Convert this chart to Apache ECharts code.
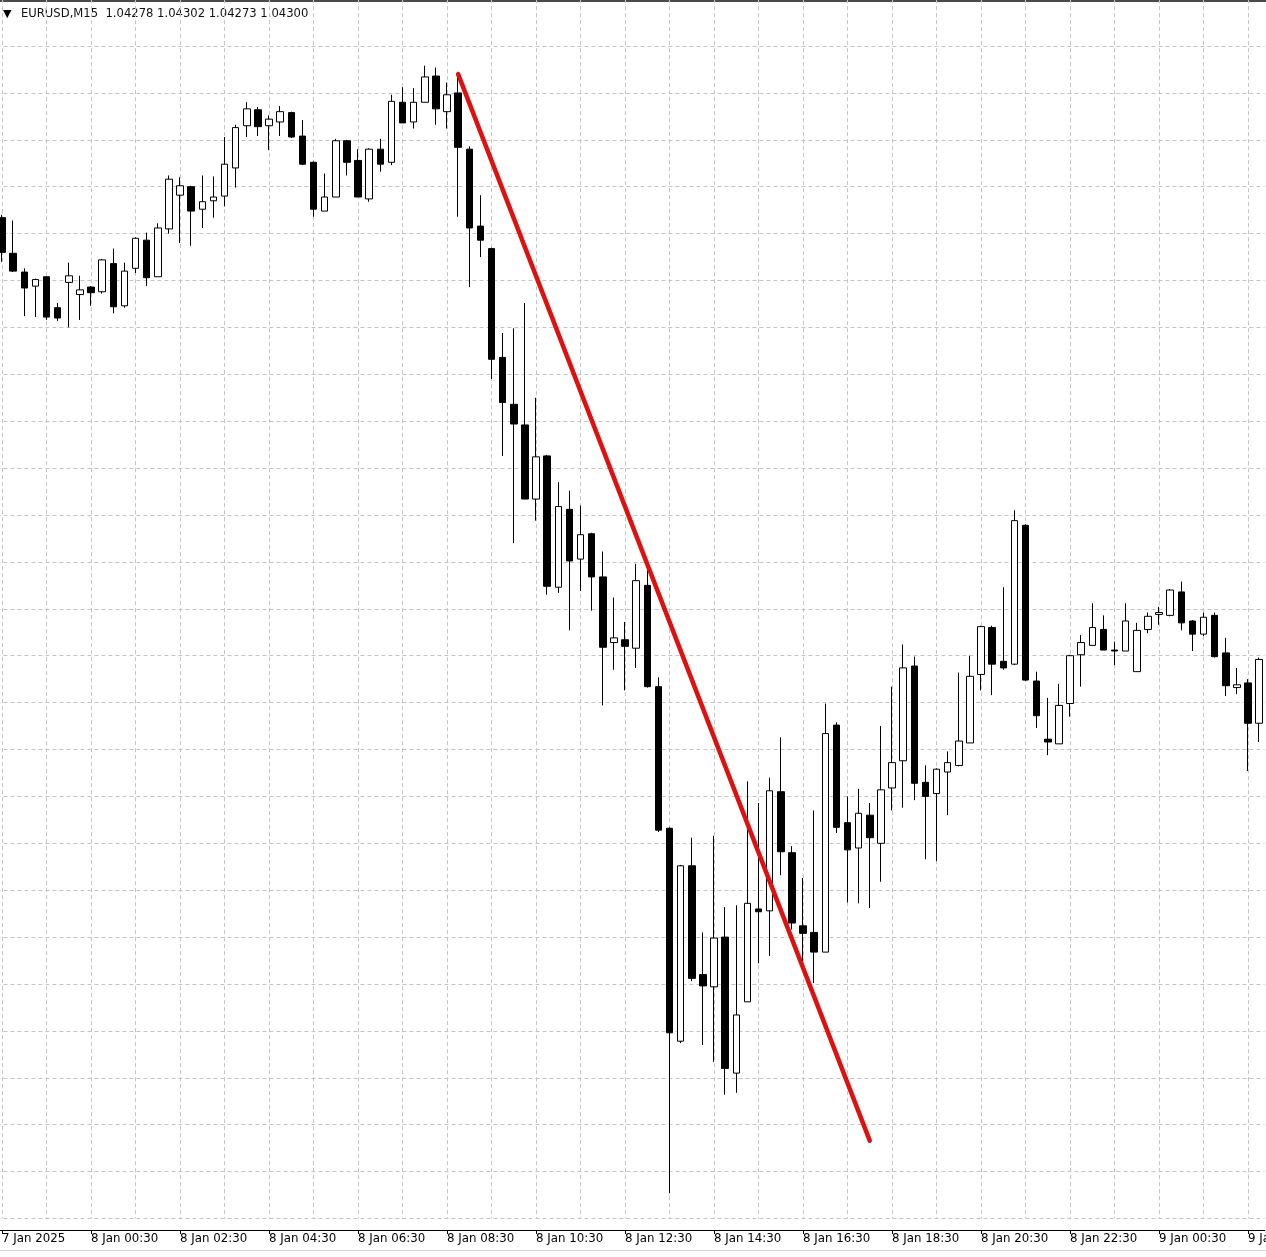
<!DOCTYPE html>
<html><head><meta charset="utf-8">
<script src="https://cdn.jsdelivr.net/npm/echarts@6/dist/echarts.min.js"></script>
<style>html,body{margin:0;padding:0;background:#fff;overflow:hidden}#c{width:1266px;height:1257px}</style>
</head><body><div id="c"></div><script>
// EURUSD M15 candles, 7 Jan 2025 22:30 -> 9 Jan 2025 02:45
const opens=[1.03767,1.03729,1.03709,1.03694,1.03704,1.03671,1.03698,1.03685,1.03693,1.03688,
1.03718,1.03673,1.03713,1.03743,1.03704,1.03755,1.03791,1.03800,1.03776,1.03785,
1.03790,1.03820,1.03865,1.03882,1.03865,1.03869,1.03879,1.03854,1.03826,1.03774,
1.03789,1.03849,1.03828,1.03787,1.03840,1.03826,1.03890,1.03869,1.03890,1.03918,
1.03880,1.03900,1.03840,1.03758,1.03734,1.03618,1.03568,1.03546,1.03467,1.03513,
1.03373,1.03456,1.03403,1.03430,1.03384,1.03314,1.03317,1.03308,1.03375,1.03267,
1.03116,1.02889,1.03076,1.02960,1.02947,1.03000,1.02855,1.02931,1.03030,1.03028,
1.03155,1.03090,1.03012,1.03005,1.02984,1.03226,1.03122,1.03095,1.03130,1.03100,
1.03159,1.03188,1.03289,1.03165,1.03153,1.03176,1.03183,1.03207,1.03280,1.03330,
1.03294,1.03291,1.03439,1.03273,1.03211,1.03206,1.03249,1.03301,1.03311,1.03328,
1.03306,1.03305,1.03283,1.03328,1.03344,1.03343,1.03368,1.03337,1.03323,1.03343,
1.03303,1.03266,1.03271,1.03228];
const highs=[1.03770,1.03764,1.03713,1.03702,1.03704,1.03676,1.03719,1.03705,1.03694,1.03723,
1.03734,1.03719,1.03746,1.03751,1.03761,1.03812,1.03810,1.03801,1.03812,1.03811,
1.03853,1.03866,1.03890,1.03885,1.03876,1.03886,1.03880,1.03871,1.03827,1.03814,
1.03851,1.03850,1.03840,1.03841,1.03851,1.03898,1.03906,1.03905,1.03929,1.03927,
1.03911,1.03918,1.03843,1.03791,1.03735,1.03644,1.03649,1.03676,1.03575,1.03514,
1.03485,1.03476,1.03460,1.03431,1.03411,1.03362,1.03336,1.03398,1.03393,1.03277,
1.03117,1.03077,1.03106,1.03005,1.03108,1.03032,1.03034,1.03166,1.03143,1.03170,
1.03213,1.03097,1.03063,1.03135,1.03249,1.03229,1.03150,1.03158,1.03143,1.03225,
1.03267,1.03312,1.03299,1.03183,1.03180,1.03198,1.03282,1.03300,1.03332,1.03332,
1.03373,1.03455,1.03440,1.03283,1.03255,1.03270,1.03301,1.03322,1.03356,1.03343,
1.03315,1.03356,1.03335,1.03346,1.03352,1.03371,1.03379,1.03338,1.03346,1.03346,
1.03319,1.03287,1.03275,1.03298];
const lows=[1.03720,1.03709,1.03662,1.03661,1.03658,1.03657,1.03650,1.03658,1.03673,1.03686,
1.03665,1.03671,1.03708,1.03694,1.03704,1.03750,1.03740,1.03737,1.03756,1.03767,
1.03779,1.03799,1.03853,1.03854,1.03839,1.03854,1.03852,1.03823,1.03768,1.03774,
1.03789,1.03812,1.03789,1.03784,1.03816,1.03823,1.03868,1.03862,1.03890,1.03866,
1.03862,1.03768,1.03693,1.03725,1.03595,1.03513,1.03420,1.03467,1.03444,1.03365,
1.03367,1.03327,1.03369,1.03348,1.03247,1.03285,1.03263,1.03287,1.03266,1.03112,
1.02727,1.02887,1.02953,1.02885,1.02867,1.02832,1.02834,1.02931,1.02972,1.02980,
1.03066,1.03008,1.02973,1.02951,1.02984,1.03111,1.03037,1.03036,1.03031,1.03059,
1.03135,1.03138,1.03146,1.03083,1.03081,1.03130,1.03182,1.03207,1.03263,1.03258,
1.03285,1.03290,1.03273,1.03223,1.03194,1.03206,1.03235,1.03267,1.03311,1.03306,
1.03290,1.03305,1.03283,1.03324,1.03333,1.03342,1.03327,1.03305,1.03321,1.03298,
1.03257,1.03259,1.03177,1.03208];
const closes=[1.03730,1.03710,1.03692,1.03701,1.03661,1.03660,1.03705,1.03690,1.03687,1.03722,
1.03672,1.03710,1.03745,1.03703,1.03756,1.03808,1.03801,1.03774,1.03784,1.03789,
1.03824,1.03863,1.03883,1.03864,1.03872,1.03880,1.03853,1.03824,1.03776,1.03789,
1.03849,1.03826,1.03789,1.03840,1.03824,1.03891,1.03868,1.03890,1.03917,1.03883,
1.03898,1.03842,1.03756,1.03743,1.03616,1.03570,1.03547,1.03467,1.03512,1.03374,
1.03459,1.03401,1.03429,1.03384,1.03309,1.03319,1.03310,1.03380,1.03267,1.03114,
1.02898,1.03076,1.02956,1.02948,1.02999,1.02860,1.02917,1.03036,1.03027,1.03156,
1.03091,1.03015,1.03004,1.02984,1.03217,1.03117,1.03093,1.03132,1.03106,1.03157,
1.03186,1.03287,1.03164,1.03150,1.03179,1.03186,1.03209,1.03278,1.03331,1.03291,
1.03287,1.03444,1.03274,1.03236,1.03208,1.03247,1.03300,1.03314,1.03330,1.03306,
1.03305,1.03337,1.03327,1.03342,1.03346,1.03370,1.03335,1.03323,1.03341,1.03299,
1.03268,1.03269,1.03228,1.03296];
const tickLabels=['7 Jan 2025','8 Jan 00:30','8 Jan 02:30','8 Jan 04:30','8 Jan 06:30','8 Jan 08:30','8 Jan 10:30','8 Jan 12:30','8 Jan 14:30','8 Jan 16:30','8 Jan 18:30','8 Jan 20:30','8 Jan 22:30','9 Jan 00:30','9 Jan 02:30'];
const trendIdx=[41,78];
const trendVal=[1.03920,1.02783];
const headerSymbol='EURUSD,M15';
const headerOHLC=['1.04278','1.04302','1.04273','1.04300'];

const months=['Jan','Feb','Mar','Apr','May','Jun','Jul','Aug','Sep','Oct','Nov','Dec'];
const t0=Date.UTC(2025,0,7,22,30);
const pad=n=>String(n).padStart(2,'0');
const categories=opens.map((_,i)=>{const d=new Date(t0+i*900000);return d.getUTCDate()+' '+months[d.getUTCMonth()]+' '+pad(d.getUTCHours())+':'+pad(d.getUTCMinutes());});

const gridStyle={color:'#c4c4c4',type:[4,3],width:1};
const chart=echarts.init(document.getElementById('c'),null,{renderer:'canvas'});
chart.setOption({
  animation:false,
  backgroundColor:'#ffffff',
  grid:{left:-3.56,right:1.31,top:-0.9,bottom:38.5,containLabel:false,outerBoundsMode:'none'},
  xAxis:{type:'category',data:categories,boundaryGap:true,offset:11.5,
    axisLine:{show:true,lineStyle:{color:'#000',width:1}},
    axisTick:{show:true,alignWithLabel:true,interval:i=>i%8===0,length:4,lineStyle:{color:'#000',width:1}},
    axisLabel:{show:true,interval:i=>i%8===0,formatter:(v,i)=>tickLabels[Math.round(i/8)]||'',align:'left',color:'#000',fontFamily:'DejaVu Sans',fontSize:11.8,margin:3,hideOverlap:false},
    splitLine:{show:true,alignWithLabel:true,interval:i=>i%4===0,lineStyle:gridStyle}},
  yAxis:{type:'value',min:1.0270,max:1.0400,interval:0.0005,scale:true,
    axisLine:{show:false},axisTick:{show:false},axisLabel:{show:false},
    splitLine:{show:true,lineStyle:gridStyle}},
  series:[
    {type:'candlestick',data:opens.map((o,i)=>[o,closes[i],lows[i],highs[i]]),barWidth:7,silent:true,
     itemStyle:{color:'#ffffff',color0:'#000000',borderColor:'#000000',borderColor0:'#000000',borderWidth:1}},
    {type:'line',data:[[trendIdx[0],trendVal[0]],[trendIdx[1],trendVal[1]]],symbol:'none',silent:true,z:5,
     lineStyle:{color:'#de1010',width:4.5,cap:'round'}}
  ],
  graphic:[
    {type:'rect',shape:{x:0,y:0,width:1266,height:2},style:{fill:'#4a4a4a'},silent:true},
    {type:'rect',shape:{x:0,y:1250,width:1266,height:1},style:{fill:'#d4d4d4'},silent:true},
    {type:'text',x:3,y:9,style:{text:'▼',font:'11px DejaVu Sans',fill:'#000'},silent:true},
    {type:'text',x:21,y:8,style:{text:headerSymbol+'  '+headerOHLC.join(' '),font:'11.6px DejaVu Sans',fill:'#111'},silent:true}
  ]
});
</script></body></html>
